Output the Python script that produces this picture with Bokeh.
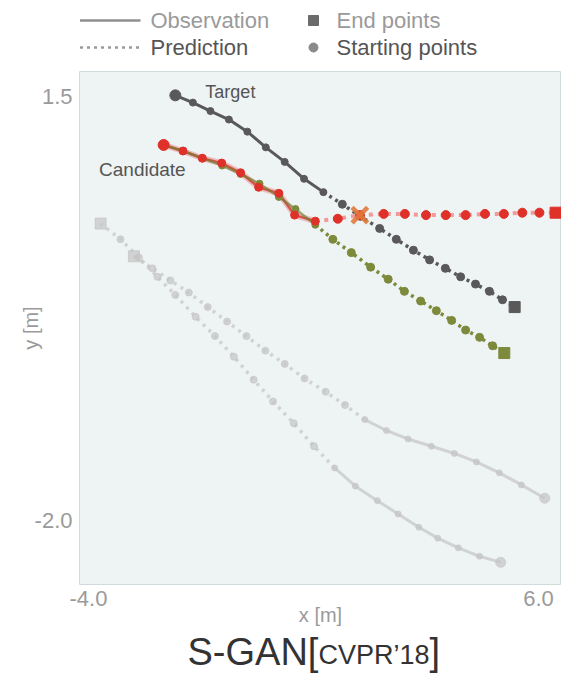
from bokeh.plotting import figure
from bokeh.layouts import column
from bokeh.models import Range1d, FixedTicker, PrintfTickFormatter
from bokeh.core.properties import value
from bokeh.embed import file_html
from bokeh.resources import INLINE

FONT = "Liberation Sans"

# ---------------- data (metres) ----------------
target_obs_x = [-2.07, -1.68, -1.29, -0.88, -0.47, -0.06, 0.36, 0.79, 1.22]
target_obs_y = [1.51, 1.45, 1.38, 1.31, 1.21, 1.08, 0.96, 0.82, 0.71]
target_pred_x = [1.64, 2.04, 2.47, 2.84, 3.22, 3.58, 3.93, 4.27, 4.60, 4.91, 5.20, 5.47]
target_pred_y = [0.61, 0.51, 0.41, 0.32, 0.23, 0.15, 0.08, 0.01, -0.05, -0.11, -0.18, -0.24]

cand_obs_x = [-2.33, -1.90, -1.47, -1.04, -0.62, -0.22, 0.23, 0.58, 1.04]
cand_obs_y = [1.10, 1.05, 0.99, 0.95, 0.87, 0.75, 0.70, 0.52, 0.47]
cand_pred_x = [1.54, 2.03, 2.56, 3.03, 3.50, 3.94, 4.38, 4.81, 5.23, 5.64, 6.02, 6.38]
cand_pred_y = [0.49, 0.52, 0.53, 0.53, 0.52, 0.52, 0.52, 0.53, 0.53, 0.54, 0.54, 0.54]

smooth_obs_x = [-2.33, -1.90, -1.47, -1.03, -0.62, -0.20, 0.23, 0.60, 1.04]
smooth_obs_y = [1.10, 1.05, 0.99, 0.93, 0.86, 0.78, 0.67, 0.57, 0.44]
smooth_pred_x = [1.43, 1.84, 2.27, 2.66, 3.02, 3.38, 3.73, 4.07, 4.38, 4.69, 4.98, 5.24]
smooth_pred_y = [0.32, 0.21, 0.09, -0.01, -0.11, -0.19, -0.27, -0.35, -0.43, -0.49, -0.56, -0.62]

agent_a_obs_x = [6.14, 5.62, 5.13, 4.62, 4.13, 3.62, 3.10, 2.62, 2.14]
agent_a_obs_y = [-1.82, -1.71, -1.61, -1.52, -1.45, -1.39, -1.33, -1.26, -1.17]
agent_a_pred_x = [1.70, 1.27, 0.80, 0.36, -0.07, -0.49, -0.92, -1.35, -1.77, -2.18, -2.58, -2.99]
agent_a_pred_y = [-1.05, -0.94, -0.83, -0.71, -0.60, -0.48, -0.36, -0.24, -0.12, -0.02, 0.08, 0.18]

agent_b_obs_x = [5.16, 4.69, 4.22, 3.76, 3.34, 2.88, 2.42, 1.93, 1.47]
agent_b_obs_y = [-2.35, -2.30, -2.23, -2.15, -2.06, -1.95, -1.84, -1.72, -1.57]
agent_b_pred_x = [1.01, 0.56, 0.10, -0.33, -0.77, -1.19, -1.62, -2.07, -2.47, -2.88, -3.29, -3.73]
agent_b_pred_y = [-1.39, -1.20, -1.02, -0.84, -0.65, -0.48, -0.32, -0.14, 0.01, 0.17, 0.32, 0.45]

collision_index = 1  # candidate prediction step colliding with target

x_ticks = [-4.0, 6.0]
y_ticks = [-2.0, 1.5]

legend_labels = ["Observation", "Prediction", "End points", "Starting points"]
title_main, title_venue, title_close = "S-GAN[", "CVPR\u201918", "]"

W = 561
LEFT = 79
LEG_H, MAIN_H, TITLE_H = 62, 570, 41
FRAME_TOP, FRAME_H = 9, 513


def strip(h):
    f = figure(width=W, height=h, x_range=Range1d(LEFT, W), y_range=Range1d(h, 0),
               toolbar_location=None, output_backend="svg",
               min_border_left=LEFT, min_border_right=0, min_border_top=0, min_border_bottom=0,
               x_axis_location=None, y_axis_location=None, outline_line_color=None)
    f.xgrid.visible = False
    f.ygrid.visible = False
    return f


# ---------------- legend strip ----------------
leg = strip(LEG_H)
leg.line([79.5, 140], [20, 20], line_color="#8f8f8f", line_width=2.5)
leg.line([79.5, 140], [47, 47], line_color="#9a9a9a", line_width=2.5, line_dash="3 4")
leg.scatter([313], [20], marker="square", size=10, color="#6b6b6b")
leg.scatter([313], [47], marker="circle", size=9, color="#8a8a8a")
for (lx, ly, txt, col) in [(150, 20, legend_labels[0], "#9a9a9a"),
                           (150, 47, legend_labels[1], "#555555"),
                           (336, 20, legend_labels[2], "#9a9a9a"),
                           (336, 47, legend_labels[3], "#555555")]:
    leg.text([lx], [ly], text=[txt], text_font=value(FONT), text_font_size="22px",
             text_color=col, text_baseline="middle", text_align="left")

# ---------------- main plot ----------------
p = figure(width=W, height=MAIN_H, x_range=Range1d(-4.2, 6.511), y_range=Range1d(-2.533, 1.707),
           toolbar_location=None, output_backend="svg",
           min_border_left=LEFT, min_border_right=0, min_border_top=FRAME_TOP,
           min_border_bottom=MAIN_H - FRAME_TOP - FRAME_H)
p.background_fill_color = "#eef3f4"
p.border_fill_color = "white"
p.outline_line_color = "#d2dadd"
p.grid.visible = False

p.xaxis.ticker = FixedTicker(ticks=x_ticks)
p.yaxis.ticker = FixedTicker(ticks=y_ticks)
p.axis.formatter = PrintfTickFormatter(format="%.1f")
p.axis.axis_line_color = None
p.axis.major_tick_line_color = None
p.axis.minor_tick_line_color = None
p.axis.major_tick_out = 0
p.axis.major_tick_in = 0
p.axis.major_label_text_font = FONT
p.axis.major_label_text_font_size = "22px"
p.axis.major_label_text_color = "#9a9a9a"
p.xaxis.major_label_standoff = 6
p.yaxis.major_label_standoff = 7
p.xaxis.axis_label = "x [m]"
p.yaxis.axis_label = "y [m]"
p.axis.axis_label_text_font = FONT
p.axis.axis_label_text_font_size = "20px"
p.axis.axis_label_text_font_style = "normal"
p.axis.axis_label_text_color = "#9a9a9a"
p.xaxis.axis_label_standoff = -5
p.yaxis.axis_label_standoff = -10


def dotted(obs_x, obs_y, pred_x, pred_y, col, lw, dash, alpha=1.0):
    p.line([obs_x[-1]] + pred_x, [obs_y[-1]] + pred_y, line_color=col, line_width=lw,
           line_dash=dash, line_alpha=alpha)


def points(obs_x, obs_y, pred_x, pred_y, col, dot, start, end, alpha=1.0):
    p.scatter(obs_x[1:], obs_y[1:], size=dot, color=col, alpha=alpha)
    p.scatter(pred_x[:-1], pred_y[:-1], size=dot + 1, color=col, alpha=alpha)
    p.scatter(obs_x[:1], obs_y[:1], size=start, color=col, alpha=alpha)
    p.scatter(pred_x[-1:], pred_y[-1:], marker="square", size=end, color=col, alpha=alpha)


# other pedestrians (faded)
for ox, oy, px_, py_ in [(agent_a_obs_x, agent_a_obs_y, agent_a_pred_x, agent_a_pred_y),
                         (agent_b_obs_x, agent_b_obs_y, agent_b_pred_x, agent_b_pred_y)]:
    dotted(ox, oy, px_, py_, "#c4c4c4", 3.5, "3 5", alpha=0.7)
    p.line(ox, oy, line_color="#c4c4c4", line_width=3, line_alpha=0.7)
    points(ox, oy, px_, py_, "#c4c4c4", 6, 10, 11, alpha=0.7)

# target
dotted(target_obs_x, target_obs_y, target_pred_x, target_pred_y, "#595959", 3.5, "3 4")
p.line(target_obs_x, target_obs_y, line_color="#595959", line_width=3)
points(target_obs_x, target_obs_y, target_pred_x, target_pred_y, "#595959", 7, 11, 11)

# smoothed candidate (olive) and candidate (red)
dotted(smooth_obs_x, smooth_obs_y, smooth_pred_x, smooth_pred_y, "#7d8a3b", 3.5, "3 4")
dotted(cand_obs_x, cand_obs_y, cand_pred_x, cand_pred_y, "#f29a98", 4, "4 5")
p.line(cand_obs_x, cand_obs_y, line_color="#e8434a", line_width=6, line_alpha=0.3)
p.line(cand_obs_x, cand_obs_y, line_color="#d23a2a", line_width=2.5, line_alpha=0.8)
p.line(smooth_obs_x, smooth_obs_y, line_color="#6f7f2f", line_width=2.5, line_alpha=0.65)
points(smooth_obs_x, smooth_obs_y, smooth_pred_x, smooth_pred_y, "#7d8a3b", 7, 7, 11)
points(cand_obs_x, cand_obs_y, cand_pred_x, cand_pred_y, "#e0302a", 8, 11, 11)

p.scatter([cand_pred_x[collision_index]], [cand_pred_y[collision_index]], marker="x", size=22,
          line_color="#e07a3c", line_width=4.5, line_alpha=0.9)

p.text([target_obs_x[0]], [target_obs_y[0]], text=["Target"], x_offset=30, y_offset=-3,
       text_font=value(FONT), text_font_size="18px", text_color="#555555",
       text_baseline="middle", text_align="left")
p.text([cand_obs_x[0]], [cand_obs_y[0]], text=["Candidate"], x_offset=22, y_offset=25,
       text_font=value(FONT), text_font_size="19px", text_color="#555555",
       text_baseline="middle", text_align="right")

# ---------------- title strip ----------------
tf = strip(TITLE_H)
for tx, ty, txt, fs in [(187, 19, title_main, "38px"), (318, 22.5, title_venue, "27px"),
                        (429, 19, title_close, "38px")]:
    tf.text([tx], [ty], text=[txt], text_font=value(FONT), text_font_size=fs,
            text_color="#333333", text_baseline="middle", text_align="left")

layout = column(leg, p, tf, spacing=0)
open("out.html", "w").write(file_html(layout, INLINE))
